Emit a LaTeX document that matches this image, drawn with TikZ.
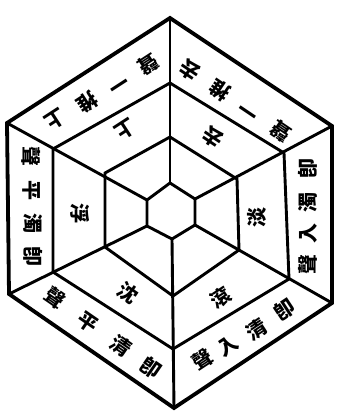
\documentclass[tikz,border=0pt]{standalone}
\usepackage{fontspec}
\newfontfamily\cjk{Noto Sans CJK TC}
\begin{document}
\begin{tikzpicture}[x=1pt,y=-1pt,
  outerline/.style={line width=3.8pt, line join=miter},
  innerline/.style={line width=2.9pt, line join=miter},
  ch/.style={font=\cjk\bfseries\fontsize{20}{20}\selectfont, inner sep=0pt}]
\useasboundingbox (0,0) rectangle (338,415);
% outer hexagon
\coordinate (T) at (170,18);
\coordinate (UR) at (332,126);
\coordinate (LR) at (332,303);
\coordinate (B) at (174,408);
\coordinate (LL) at (9,294);
\coordinate (UL) at (7,123);
% ring 2
\coordinate (T2) at (170,83);
\coordinate (UR2) at (284,153);
\coordinate (LR2) at (289,279);
\coordinate (B2) at (173,349);
\coordinate (LL2) at (53,272);
\coordinate (UL2) at (53,149);
% ring 3
\coordinate (T3) at (170,137);
\coordinate (UR3) at (237,179);
\coordinate (LR3) at (239,250);
\coordinate (B3) at (173,296);
\coordinate (LL3) at (105,247);
\coordinate (UL3) at (105,173);
% centre
\coordinate (Tc) at (170,183);
\coordinate (URc) at (195,199);
\coordinate (LRc) at (195,225);
\coordinate (Bc) at (172,239);
\coordinate (LLc) at (147,226);
\coordinate (ULc) at (147,200);

\draw[outerline] (T)--(UR)--(LR)--(B)--(LL)--(UL)--cycle;
\draw[innerline] (T2)--(UR2)--(LR2)--(B2)--(LL2)--(UL2)--cycle;
\draw[innerline] (T3)--(UR3)--(LR3)--(B3)--(LL3)--(UL3)--cycle;
\draw[innerline] (Tc)--(URc)--(LRc)--(Bc)--(LLc)--(ULc)--cycle;
\draw[innerline] (T)--(Tc);
\draw[innerline] (UR)--(URc);
\draw[innerline] (LR)--(LRc);
\draw[innerline] (B)--(Bc);
\draw[innerline] (LL)--(LLc);
\draw[innerline] (UL)--(ULc);

% upper-left outer panel
\node[ch, rotate=213] (ul1) at (55,120) {上};
\node[ch, rotate=213] (ul2) at (87,102) {推};
\node[ch, rotate=213] (ul3) at (118,83) {一};
\node[ch, rotate=213] (ul4) at (148,64) {聲};
% upper-right outer panel
\node[ch, rotate=146] (ur1) at (190,70) {去};
\node[ch, rotate=146] (ur2) at (220,90) {推};
\node[ch, rotate=146] (ur3) at (250,110) {一};
\node[ch, rotate=146] (ur4) at (281,131) {聲};
% right outer panel
\node[ch, rotate=90] (r1) at (308,168) {卽};
\node[ch, rotate=90] (r2) at (308,202) {濁};
\node[ch, rotate=90] (r3) at (308,233) {入};
\node[ch, rotate=90] (r4) at (308,264) {聲};
% lower-right outer panel
\node[ch, rotate=33.4] (lr1) at (285,310) {卽};
\node[ch, rotate=33.4] (lr2) at (257,330) {清};
\node[ch, rotate=33.4] (lr3) at (228,346) {入};
\node[ch, rotate=33.4] (lr4) at (203,360) {聲};
% lower-left outer panel
\node[ch, rotate=-34.6] (ll1) at (55,298) {聲};
\node[ch, rotate=-34.6] (ll2) at (88,322) {平};
\node[ch, rotate=-34.6] (ll3) at (121,346) {清};
\node[ch, rotate=-34.6] (ll4) at (151,368) {卽};
% left outer panel
\node[ch, rotate=-90] (l1) at (31,156) {聲};
\node[ch, rotate=-90] (l2) at (32,190) {平};
\node[ch, rotate=-90] (l3) at (33,223) {濁};
\node[ch, rotate=-90] (l4) at (33,256) {卽};
% inner panels
\node[ch, rotate=213] (i1) at (125,130) {上};
\node[ch, rotate=146] (i2) at (213,137) {去};
\node[ch, rotate=90] (i3) at (257,217) {淡};
\node[ch, rotate=33.4] (i4) at (221,298) {滾};
\node[ch, rotate=-34.6] (i5) at (128,293) {沈};
\node[ch, rotate=-90] (i6) at (80,213) {浮};
\end{tikzpicture}
\end{document}
